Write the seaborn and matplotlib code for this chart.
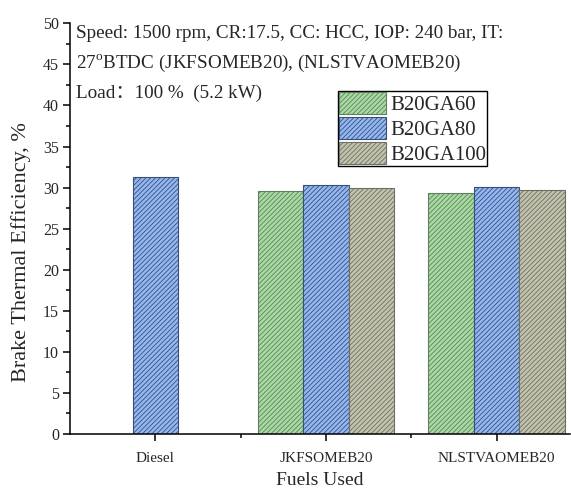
import matplotlib
matplotlib.use("Agg")
import matplotlib.pyplot as plt
import seaborn as sns
import pandas as pd
from matplotlib.patches import Patch
from matplotlib.ticker import MultipleLocator, FixedLocator

fuels = ["Diesel", "JKFSOMEB20", "NLSTVAOMEB20"]
series = ["B20GA60", "B20GA80", "B20GA100"]
b20ga60 = [None, 29.6, 29.4]
b20ga80 = [31.3, 30.3, 30.05]
b20ga100 = [None, 29.95, 29.7]

rows = []
for name, vals in zip(series, [b20ga60, b20ga80, b20ga100]):
    for f, v in zip(fuels, vals):
        if v is not None:
            rows.append({"Fuel": f, "Blend": name, "BTE": v})
df = pd.DataFrame(rows)

sns.set_style("ticks")
plt.rcParams["font.family"] = ["Liberation Serif", "Noto Sans CJK SC"]
plt.rcParams["mathtext.fontset"] = "custom"
plt.rcParams["mathtext.rm"] = "Liberation Serif"
plt.rcParams["hatch.linewidth"] = 0.6

HATCH = "/" * 7
fill_colors = ["#a8dba2", "#92b7f2", "#c2c2ad"]
edge_colors = ["#5f7f5e", "#3a4f78", "#6e6e64"]

fig = plt.figure(figsize=(5.71, 4.93), dpi=100)
ax = fig.add_axes([70 / 571, 59 / 493, 500 / 571, 410.7 / 493])

sns.barplot(data=df, x="Fuel", y="BTE", hue="Blend", order=fuels,
            hue_order=series, palette=fill_colors, width=0.8, ax=ax,
            legend=False, errorbar=None, saturation=1)

for cont, fc, ec in zip(ax.containers, fill_colors, edge_colors):
    for p in cont:
        p.set_facecolor(fc)
        p.set_edgecolor(ec)
        p.set_hatch(HATCH)
        p.set_linewidth(0.8)

ax.set_xlim(-0.5, 2.43)
ax.set_ylim(0, 50)
ax.yaxis.set_major_locator(MultipleLocator(5))
ax.yaxis.set_minor_locator(MultipleLocator(2.5))
ax.xaxis.set_minor_locator(FixedLocator([0.5, 1.5]))

for s in ["top", "right"]:
    ax.spines[s].set_visible(False)
for s in ["left", "bottom"]:
    ax.spines[s].set_linewidth(1.1)
    ax.spines[s].set_color("black")

ax.tick_params(axis="both", which="major", direction="out", length=5, width=1.1,
               color="black")
ax.tick_params(axis="both", which="minor", direction="out", length=3, width=1.1,
               color="black")
ax.tick_params(axis="y", labelsize=11.5, pad=3)
ax.tick_params(axis="x", labelsize=11, pad=8)

ax.set_xlabel("Fuels Used", fontsize=14, labelpad=5)
ax.set_ylabel("Brake Thermal Efficiency, %", fontsize=16)
ax.yaxis.set_label_coords(-0.078, 0.443)

ax.text(-0.465, 48.18, "Speed: 1500 rpm, CR:17.5, CC: HCC, IOP: 240 bar, IT:",
        fontsize=13.8, va="baseline", ha="left")
ax.text(-0.465, 44.53, r"27$^\mathrm{o}$BTDC (JKFSOMEB20), (NLSTVAOMEB20)",
        fontsize=13.8, va="baseline", ha="left")
ax.text(-0.465, 40.87, "Load\uff1a100 %  (5.2 kW)",
        fontsize=13.8, va="baseline", ha="left")

handles = [Patch(facecolor=fc, edgecolor=ec, hatch=HATCH, linewidth=0.8)
           for fc, ec in zip(fill_colors, edge_colors)]
leg = ax.legend(handles, series, loc="upper left", bbox_to_anchor=(0.536, 0.835),
                fontsize=15, frameon=True, fancybox=False, framealpha=1,
                edgecolor="black", borderpad=0.05, labelspacing=0.1,
                handlelength=2.25, handleheight=1.25, handletextpad=0.2,
                borderaxespad=0)
leg.get_frame().set_linewidth(1.0)

fig.savefig("out.png", dpi=100)
